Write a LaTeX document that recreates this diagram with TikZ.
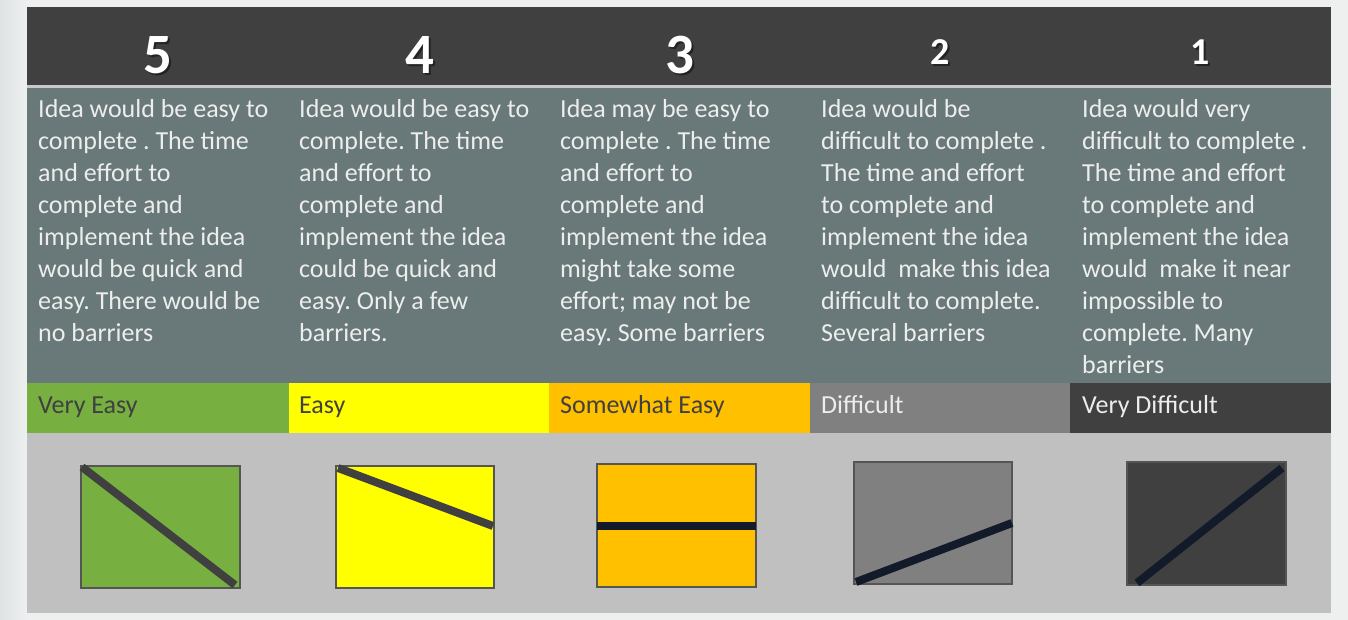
\documentclass[tikz,border=0pt]{standalone}
\usepackage{fontspec}
\setmainfont{Carlito}
\frenchspacing
\definecolor{bgc}{HTML}{EEF0F0}
\definecolor{bgedge}{HTML}{DFE3E3}
\definecolor{hdr}{HTML}{404040}
\definecolor{sepc}{HTML}{C8CACA}
\definecolor{bodyc}{HTML}{697878}
\definecolor{bodytext}{HTML}{EDEDED}
\definecolor{botc}{HTML}{C0C0C0}
\definecolor{cgreen}{HTML}{77B040}
\definecolor{cyellow}{HTML}{FFFF00}
\definecolor{corange}{HTML}{FFC000}
\definecolor{cgray}{HTML}{808080}
\definecolor{cdark}{HTML}{404040}
\definecolor{navy}{HTML}{131A2A}
\definecolor{boxline}{HTML}{555555}
\tikzset{
  numbig/.style={text=white, font=\fontsize{57}{57}\selectfont\bfseries, inner sep=0pt},
  numsmall/.style={text=white, font=\fontsize{38}{38}\selectfont\bfseries, inner sep=0pt},
  numshade/.style={text=black, opacity=0.45},
  bodytxt/.style={text=bodytext, font=\fontsize{26}{32}\selectfont\frenchspacing, align=left, anchor=north west, inner sep=0pt},
  lbl/.style={font=\fontsize{26}{32}\selectfont, anchor=base west, inner sep=0pt},
  iconbox/.style={draw=boxline, line width=1.5pt},
  slash/.style={line width=8pt},
}
\begin{document}
\begin{tikzpicture}[x=1pt,y=-1pt]
\useasboundingbox (0,0) rectangle (1348,620);
\fill[bgc] (0,0) rectangle (1348,620);
\shade[left color=bgedge, right color=bgc] (0,0) rectangle (27,620);
% bands
\fill[hdr] (27,7) rectangle (1331,85);
\fill[sepc] (27,85) rectangle (1331,88);
\fill[bodyc] (27,88) rectangle (1331,383);
\fill[cgreen] (27,383) rectangle (289,433);
\fill[cyellow] (289,383) rectangle (549,433);
\fill[corange] (549,383) rectangle (810,433);
\fill[cgray] (810,383) rectangle (1070,433);
\fill[cdark] (1070,383) rectangle (1331,433);
\fill[botc] (27,433) rectangle (1331,613);
% header numbers
\node[numbig, numshade] at (160,57) {5};
\node[numbig] (n5) at (158,55) {5};
\node[numbig, numshade] at (422,57) {4};
\node[numbig] (n4) at (420,55) {4};
\node[numbig, numshade] at (682,57) {3};
\node[numbig] (n3) at (680,55) {3};
\node[numsmall, numshade] at (942,54) {2};
\node[numsmall] (n2) at (940,52) {2};
\node[numsmall, numshade] at (1202,54) {1};
\node[numsmall] (n1) at (1200,52) {1};
% body texts
\node[bodytxt] (t5) at (38,99) {Idea would be easy to\\complete . The time\\and effort to\\complete and\\implement the idea\\would be quick and\\easy. There would be\\no barriers};
\node[bodytxt] (t4) at (299,99) {Idea would be easy to\\complete. The time\\and effort to\\complete and\\implement the idea\\could be quick and\\easy. Only a few\\barriers.};
\node[bodytxt] (t3) at (560,99) {Idea may be easy to\\complete . The time\\and effort to\\complete and\\implement the idea\\might take some\\effort; may not be\\easy. Some barriers};
\node[bodytxt] (t2) at (821,99) {Idea would be\\difficult to complete .\\The time and effort\\to complete and\\implement the idea\\would\ \ make this idea\\difficult to complete.\\Several barriers};
\node[bodytxt] (t1) at (1082,99) {Idea would very\\difficult to complete .\\The time and effort\\to complete and\\implement the idea\\would\ \ make it near\\impossible to\\complete. Many\\barriers};
% labels
\node[lbl, text=cdark] (l5) at (38,413) {Very Easy};
\node[lbl, text=cdark] (l4) at (299,413) {Easy};
\node[lbl, text=cdark] (l3) at (560,413) {Somewhat Easy};
\node[lbl, text=bodytext] (l2) at (821,413) {Difficult};
\node[lbl, text=bodytext] (l1) at (1082,413) {Very Difficult};
% icons
\draw[iconbox, fill=cgreen] (81,466) rectangle (240,588);
\coordinate (a5) at (82,467); \coordinate (b5) at (235,585);
\draw[slash, cdark] (a5) -- (b5);
\draw[iconbox, fill=cyellow] (336,466) rectangle (494,588);
\coordinate (a4) at (338,468); \coordinate (b4) at (493,526);
\draw[slash, cdark] (a4) -- (b4);
\draw[iconbox, fill=corange] (597,464) rectangle (756,587);
\coordinate (a3) at (597,526); \coordinate (b3) at (756,526);
\draw[slash, navy] (a3) -- (b3);
\draw[iconbox, fill=cgray] (854,462) rectangle (1012,584);
\coordinate (a2) at (856,582); \coordinate (b2) at (1012,523);
\draw[slash, navy] (a2) -- (b2);
\draw[iconbox, fill=cdark] (1127,462) rectangle (1286,585);
\coordinate (a1) at (1137,583); \coordinate (b1) at (1282,468);
\draw[slash, navy] (a1) -- (b1);
\end{tikzpicture}
\end{document}
